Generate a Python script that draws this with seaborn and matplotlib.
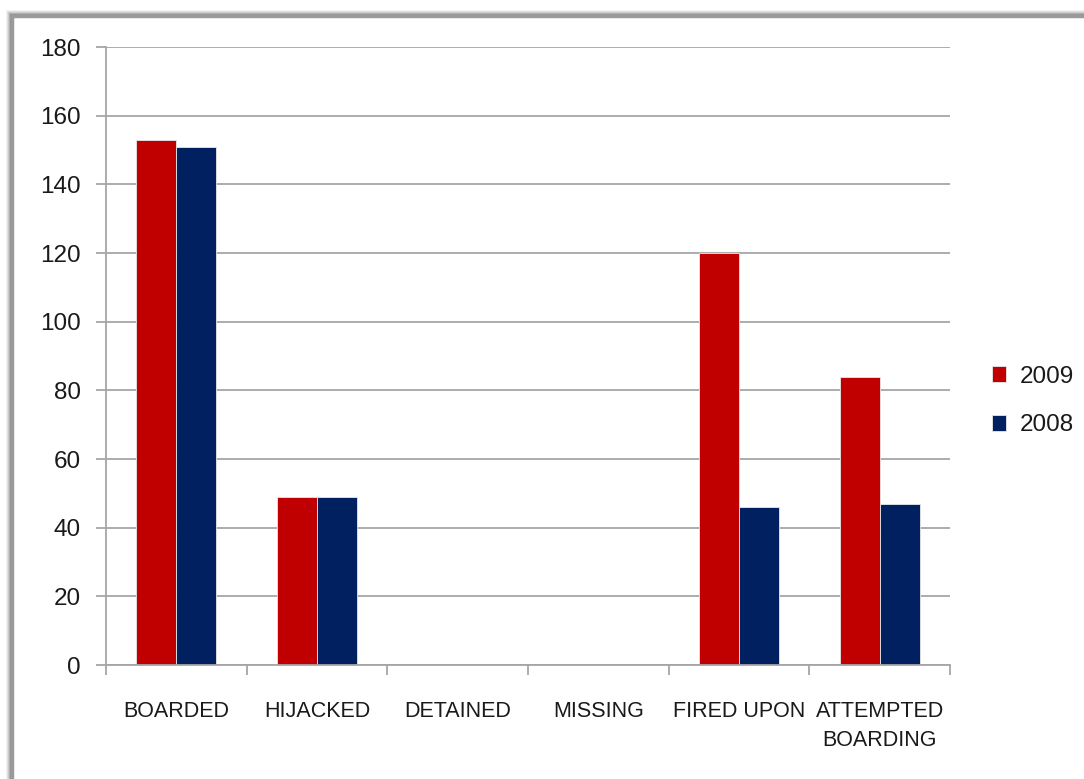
import matplotlib
matplotlib.use("Agg")
import matplotlib.pyplot as plt
from matplotlib.patches import Rectangle
import seaborn as sns
import pandas as pd

# Incident counts by type, 2009 vs 2008
categories = ["BOARDED", "HIJACKED", "DETAINED", "MISSING", "FIRED UPON", "ATTEMPTED\nBOARDING"]
years = ["2009", "2008"]
values_2009 = [153, 49, 0, 0, 120, 84]
values_2008 = [151, 49, 0, 0, 46, 47]
y_ticks = [0, 20, 40, 60, 80, 100, 120, 140, 160, 180]

df = pd.DataFrame({
    "category": categories * 2,
    "year": [years[0]] * len(categories) + [years[1]] * len(categories),
    "count": values_2009 + values_2008,
})

sns.set_theme(style="white")
plt.rcParams["font.family"] = ["Liberation Sans", "DejaVu Sans"]

fig = plt.figure(figsize=(10.84, 7.79), dpi=100)
fig.patch.set_facecolor("white")

# Framed panel with a soft drop shadow
W, H = 1084, 779
def fx(px):
    return px / W
def fy(py):
    return 1 - py / H

for i, a in enumerate([0.05, 0.07, 0.09, 0.12, 0.16]):
    off = 6 - i
    fig.patches.append(Rectangle((fx(12 - off), fy(H + 20)), fx(W + 40), (H + 20 - 16 + off) / H,
                                 transform=fig.transFigure, facecolor="black", alpha=a,
                                 edgecolor="none", zorder=0))
fig.patches.append(Rectangle((fx(12), fy(H + 20)), fx(W + 40), (H + 20 - 16) / H,
                             transform=fig.transFigure, facecolor="white",
                             edgecolor="#9a9a9a", linewidth=2.5, zorder=1))

ax = fig.add_axes([106 / W, 114 / H, (950 - 106) / W, (665 - 47) / H])
ax.set_facecolor("none")
ax.set_zorder(2)

sns.barplot(data=df, x="category", y="count", hue="year", hue_order=years,
            order=categories, palette=["#C00000", "#002060"], width=0.57,
            gap=0, linewidth=0.6, edgecolor="#e8e8e8", saturation=1, ax=ax)

ax.set_xlim(-0.5, len(categories) - 0.5)
ax.set_ylim(0, 180)
ax.set_yticks(y_ticks)
ax.yaxis.grid(True, color="#a6a6a6", linewidth=1.3)
ax.set_axisbelow(True)
ax.set_xlabel("")
ax.set_ylabel("")

for s in ["top", "right"]:
    ax.spines[s].set_visible(False)
for s in ["left", "bottom"]:
    ax.spines[s].set_color("#a6a6a6")
    ax.spines[s].set_linewidth(1.3)

ax.tick_params(axis="y", which="major", left=True, length=7, width=1.3, color="#a6a6a6",
               pad=11, labelsize=17.5, labelcolor="#1a1a1a")
ax.set_xticks(range(len(categories)))
ax.set_xticklabels(categories, linespacing=1.5)
ax.set_xticks([i - 0.5 for i in range(len(categories) + 1)], minor=True)
ax.tick_params(axis="x", which="major", length=0, pad=26, labelsize=15.5, labelcolor="#1a1a1a")
ax.tick_params(axis="x", which="minor", bottom=True, length=7, width=1.3, color="#a6a6a6")

leg = ax.legend(loc="center left", bbox_to_anchor=(1.035, 0.427), frameon=False,
                fontsize=17.5, handlelength=0.6, handleheight=0.6, handletextpad=0.55,
                labelspacing=1.1, borderpad=0)
for t in leg.get_texts():
    t.set_color("#1a1a1a")

fig.savefig("out.png", dpi=100, facecolor="white")
